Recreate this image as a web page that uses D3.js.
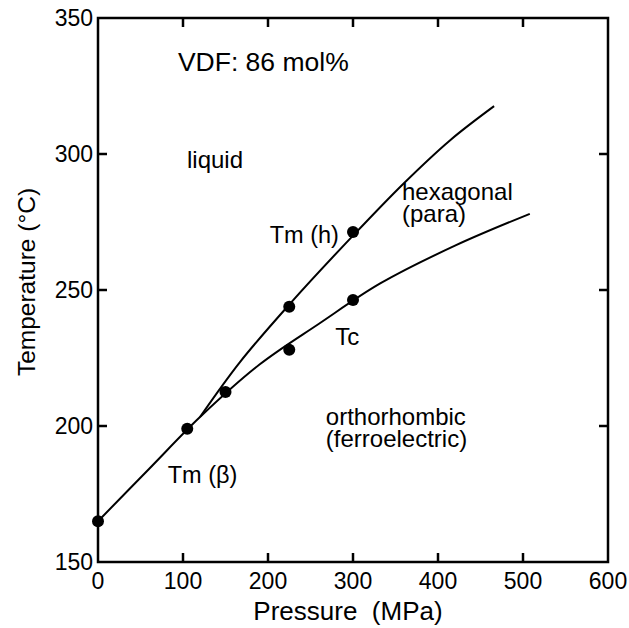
<!DOCTYPE html>
<html>
<head>
<meta charset="utf-8">
<script src="https://cdn.jsdelivr.net/npm/d3@7"></script>
<style>
  body { margin: 0; background: #fff; }
  svg text { font-family: "Liberation Sans", Arial, Helvetica, sans-serif; fill: #000; }
</style>
</head>
<body>
<svg id="chart" width="629" height="628"></svg>
<script>
// measured points (pressure MPa, temperature °C)
var measuredP = [0, 105, 150, 225, 225, 300, 300];
var measuredT = [165, 199, 212.5, 243.8, 228, 271.3, 246.3];

// lower curve: Tm(beta) line continuing into Tc
var lowerP = [0, 60, 120, 190, 260, 332, 420, 508];
var lowerT = [165, 184.2, 203.3, 222.6, 237.6, 252.4, 266.3, 278];

// upper curve: Tm(h), branching off at ~120 MPa
var upperP = [120, 167, 226, 300, 359, 414, 466];
var upperT = [203.3, 223.5, 245, 270, 289, 305, 317.6];

var xTicks = [0, 100, 200, 300, 400, 500, 600];
var yTicks = [150, 200, 250, 300, 350];

var labelText = ["VDF: 86 mol%", "liquid", "hexagonal", "(para)", "Tm (h)", "Tc", "orthorhombic", "(ferroelectric)", "Tm (\u03b2)"];
var labelP = [94, 104.7, 357.6, 357.6, 202, 279, 268, 268, 82];
var labelT = [330.5, 294.9, 283.1, 275, 267.3, 229.8, 200.4, 192.3, 179];
var labelSize = [26.5, 24, 24, 24, 23.5, 24, 24, 24, 23.5];

var svg = d3.select("#chart");
var plotLeft = 98, plotRight = 608, plotTop = 18, plotBottom = 562;

var x = d3.scaleLinear().domain([0, 600]).range([plotLeft, plotRight]);
var y = d3.scaleLinear().domain([150, 350]).range([plotBottom, plotTop]);

// frame
svg.append("rect")
    .attr("x", plotLeft).attr("y", plotTop)
    .attr("width", plotRight - plotLeft).attr("height", plotBottom - plotTop)
    .attr("fill", "none").attr("stroke", "#000").attr("stroke-width", 2.5);

// ticks, pointing inward on every side
var tickLen = 9;
var g = svg.append("g").attr("stroke", "#000").attr("stroke-width", 2.5);
xTicks.slice(1, -1).forEach(function(t) {
    g.append("line").attr("x1", x(t)).attr("x2", x(t)).attr("y1", plotBottom).attr("y2", plotBottom - tickLen);
    g.append("line").attr("x1", x(t)).attr("x2", x(t)).attr("y1", plotTop).attr("y2", plotTop + tickLen);
});
yTicks.slice(1, -1).forEach(function(t) {
    g.append("line").attr("y1", y(t)).attr("y2", y(t)).attr("x1", plotLeft).attr("x2", plotLeft + tickLen);
    g.append("line").attr("y1", y(t)).attr("y2", y(t)).attr("x1", plotRight).attr("x2", plotRight - tickLen);
});

svg.append("g").selectAll("text")
    .data(xTicks)
    .enter().append("text")
    .attr("x", function(d) { return x(d); })
    .attr("y", plotBottom + 27)
    .attr("text-anchor", "middle")
    .attr("font-size", 23)
    .text(function(d) { return d; });

svg.append("g").selectAll("text")
    .data(yTicks)
    .enter().append("text")
    .attr("x", plotLeft - 5)
    .attr("y", function(d) { return y(d) + 8; })
    .attr("text-anchor", "end")
    .attr("font-size", 23)
    .text(function(d) { return d; });

// axis titles
svg.append("text")
    .attr("x", 348).attr("y", 620)
    .attr("text-anchor", "middle")
    .attr("font-size", 26)
    .text("Pressure\u00a0\u00a0(MPa)");

svg.append("text")
    .attr("transform", "translate(35,282) rotate(-90)")
    .attr("text-anchor", "middle")
    .attr("font-size", 24.5)
    .text("Temperature (\u00b0C)");

// curves
var line = d3.line()
    .x(function(d) { return x(d[0]); })
    .y(function(d) { return y(d[1]); })
    .curve(d3.curveCatmullRom.alpha(0.5));

svg.append("path")
    .datum(d3.zip(lowerP, lowerT))
    .attr("d", line)
    .attr("fill", "none").attr("stroke", "#000").attr("stroke-width", 2);

svg.append("path")
    .datum(d3.zip(upperP, upperT))
    .attr("d", line)
    .attr("fill", "none").attr("stroke", "#000").attr("stroke-width", 2);

// measured points
svg.append("g").selectAll("circle")
    .data(d3.zip(measuredP, measuredT))
    .enter().append("circle")
    .attr("cx", function(d) { return x(d[0]); })
    .attr("cy", function(d) { return y(d[1]); })
    .attr("r", 6)
    .attr("fill", "#000");

// region / curve labels
svg.append("g").selectAll("text")
    .data(labelText)
    .enter().append("text")
    .attr("x", function(d, i) { return x(labelP[i]); })
    .attr("y", function(d, i) { return y(labelT[i]); })
    .attr("font-size", function(d, i) { return labelSize[i]; })
    .text(function(d) { return d; });
</script>
</body>
</html>
